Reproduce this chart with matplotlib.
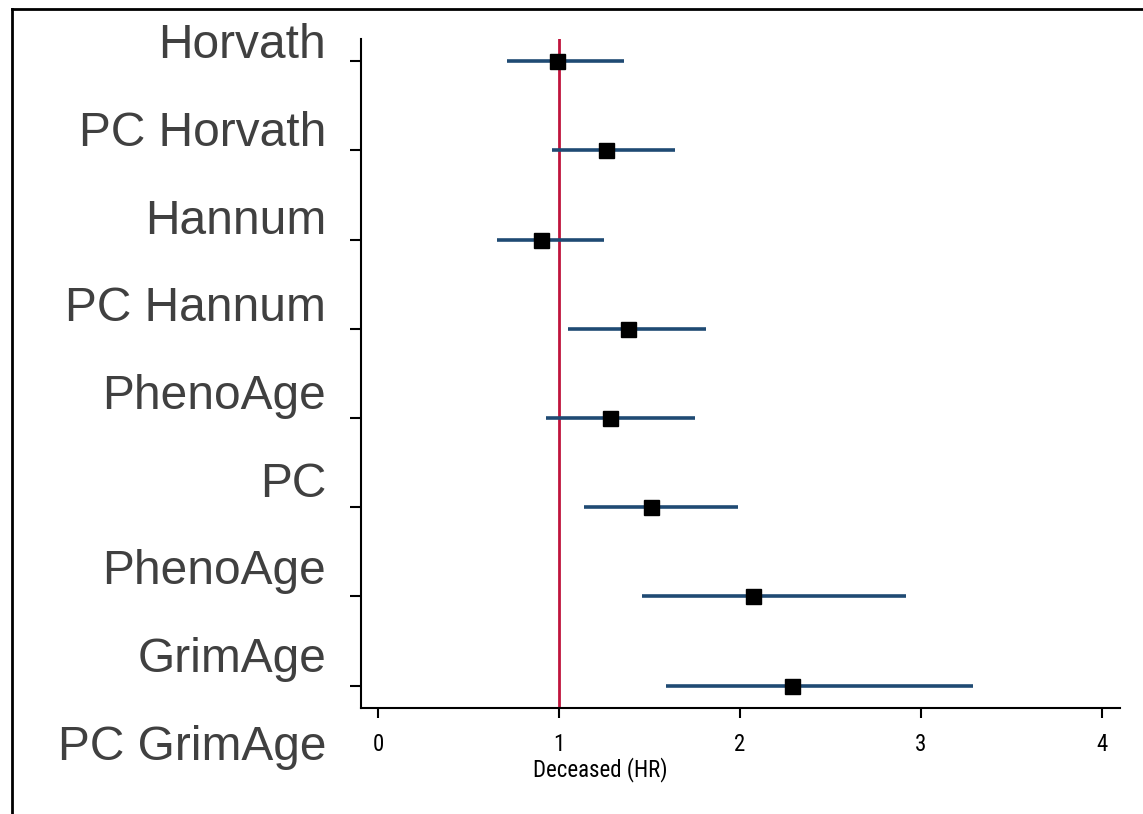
import matplotlib
matplotlib.use("Agg")
import matplotlib.pyplot as plt
from matplotlib.lines import Line2D
from matplotlib import font_manager

labels = ["Horvath", "PC Horvath", "Hannum", "PC Hannum", "PhenoAge", "PC",
          "PhenoAge", "GrimAge", "PC GrimAge"]
hr = [0.99, 1.26, 0.90, 1.38, 1.28, 1.51, 2.07, 2.29]
ci_low = [0.71, 0.96, 0.66, 1.05, 0.93, 1.14, 1.46, 1.59]
ci_high = [1.36, 1.64, 1.25, 1.81, 1.75, 1.99, 2.92, 3.29]
xticks = [0, 1, 2, 3, 4]
xlabel = "Deceased (HR)"

W, H = 1143, 814
fig = plt.figure(figsize=(W / 100, H / 100), dpi=100)
fig.patch.set_facecolor("white")

def fx(px):
    return px / W

def fy(py):
    return 1 - py / H

ax = fig.add_axes([fx(361), fy(708), fx(1120) - fx(361), fy(39) - fy(708)])

names = set(f.name for f in font_manager.fontManager.ttflist)
narrow = None
for cand in ["Liberation Sans Narrow", "Arial Narrow", "DejaVu Sans Condensed",
             "Roboto Condensed", "Open Sans Condensed", "Noto Sans Condensed"]:
    if cand in names:
        narrow = cand
        break
if narrow is None:
    narrow = "Liberation Sans"
    small_fs = 14
else:
    small_fs = 16.5

pos = list(range(1, len(hr) + 1))
for p, lo, hi in zip(pos, ci_low, ci_high):
    ax.plot([lo, hi], [p, p], color="#1f4a73", lw=2.6, solid_capstyle="butt", zorder=2)
ax.plot(hr, pos, linestyle="none", marker="s", markersize=10.8,
        color="black", zorder=3)
ax.axvline(1, color="#c0143c", lw=2.0, zorder=1)

ax.set_ylim(8.25, 0.75)
ax.set_xlim(-0.094, 4.10)
ax.set_yticks(pos)
ax.set_yticklabels([])
ax.set_xticks(xticks)
ax.set_xticklabels([str(t) for t in xticks], fontsize=small_fs, family=narrow)
ax.tick_params(axis="y", length=8, width=1.5, direction="out")
ax.tick_params(axis="x", length=7, width=1.5, direction="out", pad=11)
ax.set_xlabel(xlabel, fontsize=small_fs, family=narrow)
ax.xaxis.set_label_coords((600 - 361) / (1120 - 361), -(757 - 708) / (708 - 39))
for s in ["top", "right"]:
    ax.spines[s].set_visible(False)
for s in ["left", "bottom"]:
    ax.spines[s].set_linewidth(1.5)

# category labels (offset from the ticks as in the original)
top_px, bot_px = 46, 747
step = (bot_px - top_px) / (len(labels) - 1)
for i, lab in enumerate(labels):
    fig.text(fx(326), fy(top_px + i * step), lab, ha="right", va="center",
             fontsize=34.5, color="#404040", family="Liberation Sans")

# partial figure frame
fig.add_artist(Line2D([fx(12), fx(12)], [fy(9), 0], transform=fig.transFigure,
                      color="black", lw=2))
fig.add_artist(Line2D([fx(12), 1], [fy(9), fy(9)], transform=fig.transFigure,
                      color="black", lw=2))

fig.savefig("out.png", dpi=100, facecolor="white")
